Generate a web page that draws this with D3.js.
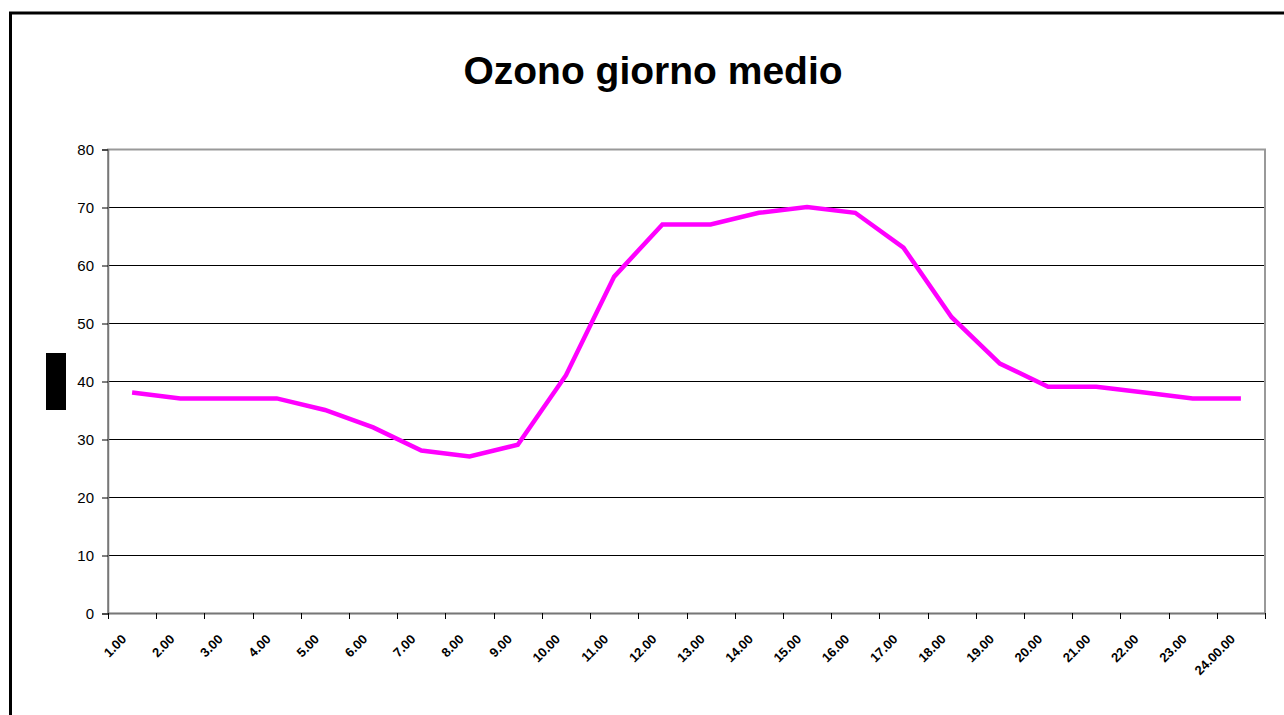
<!DOCTYPE html>
<html>
<head>
<meta charset="utf-8">
<script src="https://cdn.jsdelivr.net/npm/d3@7"></script>
<style>
  body { margin: 0; background: #fff; }
  text { font-family: "Liberation Sans", Arial, sans-serif; }
</style>
</head>
<body>
<script>
// ozone, average day
var hours = ["1.00","2.00","3.00","4.00","5.00","6.00","7.00","8.00","9.00","10.00","11.00","12.00",
             "13.00","14.00","15.00","16.00","17.00","18.00","19.00","20.00","21.00","22.00","23.00","24.00.00"];
var ozono = [38,37,37,37,35,32,28,27,29,41,58,67,67,69,70,69,63,51,43,39,39,38,37,37];
var yTicks = [0,10,20,30,40,50,60,70,80];

var W = 1284, H = 715;
var pLeft = 108, pRight = 1265, pTop = 149, pBottom = 613;

var svg = d3.select("body").append("svg")
    .attr("width", W)
    .attr("height", H);

// outer chart border (runs off to the right / bottom)
svg.append("rect")
  .attr("x", 10.5).attr("y", 13)
  .attr("width", W + 20).attr("height", H + 20)
  .attr("fill", "none").attr("stroke", "#000").attr("stroke-width", 3);

svg.append("text")
  .attr("x", 653).attr("y", 84)
  .attr("text-anchor", "middle")
  .attr("font-size", 39).attr("font-weight", "bold")
  .text("Ozono giorno medio");

var x = d3.scaleBand().domain(hours).range([pLeft, pRight]);
var y = d3.scaleLinear().domain([0, 80]).range([pBottom, pTop]);

// gridlines
svg.append("g").selectAll("line")
  .data(yTicks.filter(function(d) { return d > 0 && d < 80; }))
  .enter().append("line")
  .attr("x1", pLeft).attr("x2", pRight)
  .attr("y1", function(d) { return y(d) + 0.5; })
  .attr("y2", function(d) { return y(d) + 0.5; })
  .attr("stroke", "#000").attr("stroke-width", 1);

// plot frame
svg.append("rect")
  .attr("x", pLeft).attr("y", pTop + 0.5)
  .attr("width", pRight - pLeft).attr("height", pBottom - pTop)
  .attr("fill", "none").attr("stroke", "#999").attr("stroke-width", 2);

// y axis
var yAxis = svg.append("g")
  .attr("transform", "translate(" + pLeft + ",0.5)")
  .call(d3.axisLeft(y).tickValues(yTicks).tickSize(6).tickPadding(8));
yAxis.select(".domain").attr("stroke", "#777").attr("stroke-width", 1.5);
yAxis.selectAll(".tick line").attr("stroke", "#000");
yAxis.selectAll("text").attr("font-size", 15).attr("fill", "#000")
  .attr("font-family", "Liberation Sans, Arial, sans-serif");

// x axis, ticks at category boundaries
var bounds = hours.map(function(h) { return x(h); }).concat([pRight]);
var xg = svg.append("g");
xg.append("line")
  .attr("x1", pLeft).attr("x2", pRight)
  .attr("y1", pBottom + 0.5).attr("y2", pBottom + 0.5)
  .attr("stroke", "#777").attr("stroke-width", 1.5);
xg.selectAll("line.tk")
  .data(bounds)
  .enter().append("line")
  .attr("class", "tk")
  .attr("x1", function(d) { return Math.round(d) + 0.5; })
  .attr("x2", function(d) { return Math.round(d) + 0.5; })
  .attr("y1", pBottom).attr("y2", pBottom + 6)
  .attr("stroke", "#000");
xg.selectAll("text")
  .data(hours)
  .enter().append("text")
  .attr("transform", function(d) {
    return "translate(" + (x(d) + x.bandwidth() / 2 - 5) + "," + (pBottom + 27) + ") rotate(-45)";
  })
  .attr("text-anchor", "end")
  .attr("font-size", 13)
  .attr("font-weight", "bold")
  .attr("fill", "#000")
  .text(function(d) { return d; });

// y axis title box (rendered as solid block in the source)
svg.append("rect")
  .attr("x", 46).attr("y", 353)
  .attr("width", 20).attr("height", 57)
  .attr("fill", "#000");

var line = d3.line()
  .x(function(d, i) { return x(hours[i]) + x.bandwidth() / 2; })
  .y(function(d) { return y(d); });

svg.append("path")
  .datum(ozono)
  .attr("d", line)
  .attr("fill", "none")
  .attr("stroke", "#ff00ff")
  .attr("stroke-width", 4.5)
  .attr("stroke-linejoin", "miter");
</script>
</body>
</html>
